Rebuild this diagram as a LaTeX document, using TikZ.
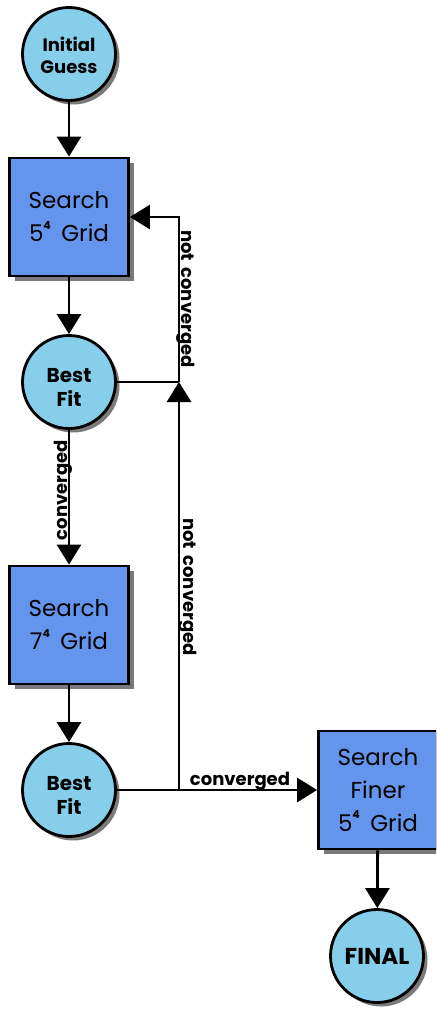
\documentclass[tikz,border=0pt]{standalone}
\usepackage{fontspec}
\setmainfont{Poppins}
\usetikzlibrary{arrows.meta,shadows}
\definecolor{roundfill}{HTML}{87CEEB}
\definecolor{boxfill}{HTML}{6495ED}
\definecolor{shade}{HTML}{7A7A7A}
\newcommand{\pw}[1]{#1\raisebox{0.55em}{\fontsize{11}{11}\selectfont\textbf{4}}\hspace{0.45em}Grid}
\newcommand{\gap}{\hspace{0.35em}}
% stacked lines, nudged down inside a round node (box size kept)
\newcommand{\lowstack}[2]{\raisebox{-#1}[\height][\depth]{\begin{tabular}{@{}c@{}}#2\end{tabular}}}
\begin{document}
\begin{tikzpicture}[x=1pt,y=-1pt,
  roundnode/.style={circle, draw, line width=2.8pt, fill=roundfill,
    minimum size=93pt, inner sep=0pt, align=center,
    font=\bfseries\fontsize{18}{22}\selectfont,
    drop shadow={shadow xshift=4pt, shadow yshift=-4pt, fill=shade, opacity=1}},
  gridbox/.style={rectangle, draw, line width=2.8pt, fill=boxfill,
    minimum width=119pt, minimum height=118pt, inner sep=0pt, align=center,
    font=\fontsize{23}{33}\selectfont,
    drop shadow={shadow xshift=5pt, shadow yshift=-5pt, fill=shade, opacity=1}},
  flow/.style={line width=2.8pt, -{Triangle[width=24pt,length=20pt]}},
  plain/.style={line width=2.8pt},
  edgelabel/.style={font=\bfseries\fontsize{18}{20}\selectfont, inner sep=0pt}
]
\clip (0,0) rectangle (436,1011);
\fill[white] (0,0) rectangle (436,1011);

% nodes
\node[roundnode] (guess) at (69,54) {\lowstack{4pt}{Initial\\Guess}};
\node[gridbox] (coarse) at (69,217) {Search\\\pw{5}};
\node[roundnode, font=\bfseries\fontsize{20}{24}\selectfont] (fit1) at (69,382) {\lowstack{8pt}{Best\\Fit}};
\node[gridbox] (mid) at (69,625) {Search\\\pw{7}};
\node[roundnode, font=\bfseries\fontsize{20}{24}\selectfont] (fit2) at (69,790) {\lowstack{8pt}{Best\\Fit}};
\node[gridbox] (fine) at (378,790) {Search\\Finer\\\pw{5}};
\node[roundnode, font=\bfseries\fontsize{23}{26}\selectfont] (final) at (377,956) {FINAL};

% junctions on the feedback line
\coordinate (j1) at (179,382);
\coordinate (j2) at (179,790);

% main flow
\draw[flow] (guess) -- (coarse);
\draw[flow] (coarse) -- (fit1);
\draw[flow] (fit1) -- (mid);
\draw[flow] (mid) -- (fit2);
\draw[flow] (fit2) -- (fine);
\draw[flow] (fine) -- (final);

% feedback loops
\draw[plain] (fit1.east) -- (j1);
\draw[flow] (j1) |- (coarse.east);
\draw[flow] (j2) -- (j1);

% labels
\node[edgelabel, rotate=90, anchor=base] (lc1) at (67,490) {converged};
\node[edgelabel, rotate=-90, anchor=base] (lnc1) at (181,299) {not\gap converged};
\node[edgelabel, rotate=-90, anchor=base] (lnc2) at (183,587) {not\gap converged};
\node[edgelabel, anchor=base] (lc2) at (240,785) {converged};
\end{tikzpicture}
\end{document}
